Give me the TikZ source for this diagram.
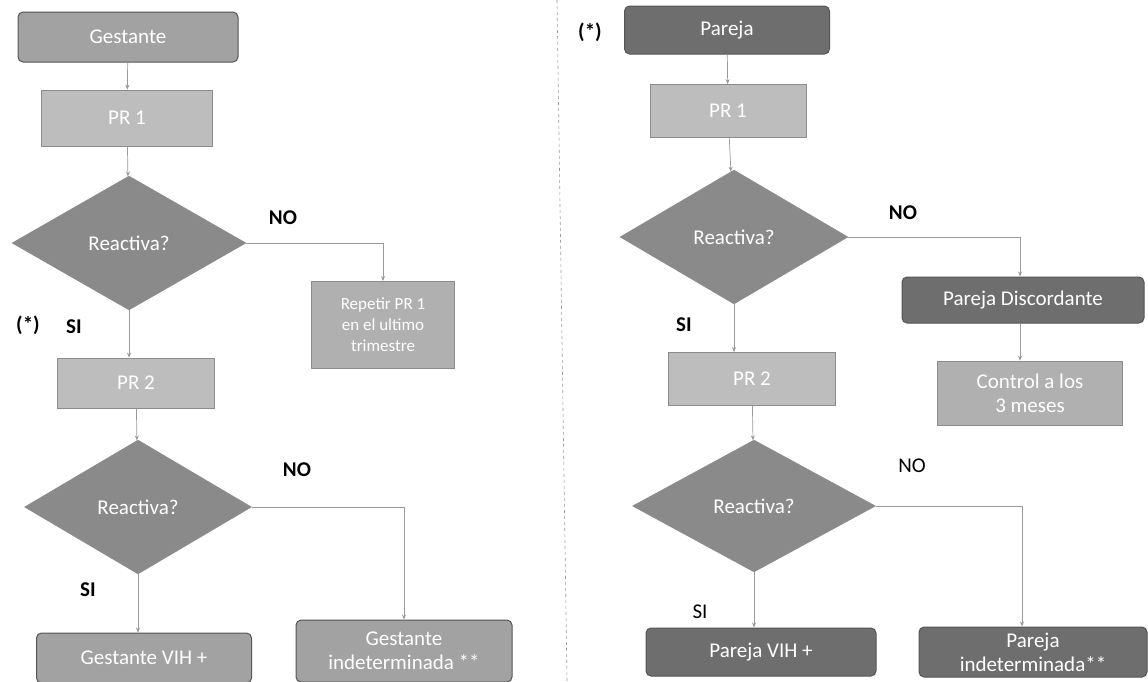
\documentclass[tikz,border=0pt]{standalone}
\usepackage{fontspec}
\setmainfont{Carlito}
\usetikzlibrary{shapes.geometric,arrows.meta}
\definecolor{lnc}{HTML}{9A9A9A}
\definecolor{prfill}{HTML}{BDBDBD}
\definecolor{prdraw}{HTML}{8C8C8C}
\definecolor{gfill}{HTML}{A2A2A2}
\definecolor{dfill}{HTML}{8A8A8A}
\definecolor{pfill}{HTML}{6E6E6E}
\definecolor{bdraw}{HTML}{555555}
\tikzset{
  base/.style={text=white, font=\fontsize{21}{24}\selectfont, align=center, inner sep=0pt},
  rbox/.style={base, rounded corners=5pt, draw=bdraw, line width=1pt},
  sbox/.style={base, draw=prdraw, line width=0.8pt, fill=prfill},
  dia/.style={base, diamond, fill=dfill, draw=dfill},
  conn/.style={draw=lnc, line width=0.7pt, -{Stealth[length=5pt,width=4pt]}},
  lbl/.style={font=\fontsize{21}{24}\selectfont\bfseries, text=black},
  lbln/.style={font=\fontsize{21}{24}\selectfont, text=black}
}
\begin{document}
\begin{tikzpicture}[x=1pt,y=-1pt]
\useasboundingbox (0,0) rectangle (1148,681);
\fill[white] (0,0) rectangle (1148,681);
\draw[lnc, dashed, line width=0.6pt] (557,0) -- (567,681);
% Left column
\node[rbox, fill=gfill, minimum width=220pt, minimum height=50pt] (g) at (128,37) {Gestante};
\node[sbox, minimum width=171pt, minimum height=56pt] (pr1) at (127,118) {PR 1};
\node[dia, minimum width=234pt, minimum height=134pt] (d1) at (129,243) {Reactiva?};
\node[sbox, fill=gfill!85!white, minimum width=143pt, minimum height=87pt, font=\fontsize{17}{21}\selectfont] (rep) at (383,325) {Repetir PR 1\\en el ultimo\\trimestre};
\node[sbox, minimum width=157pt, minimum height=50pt] (pr2) at (136,383) {PR 2};
\node[dia, minimum width=227pt, minimum height=134pt] (d2) at (138,507) {Reactiva?};
\node[rbox, fill=gfill, minimum width=215pt, minimum height=50pt] (gv) at (144,658) {Gestante VIH +};
\node[rbox, fill=gfill, minimum width=216pt, minimum height=62pt] (gi) at (404,651) {Gestante\\indeterminada **};
\coordinate (c1) at (383,243);
\coordinate (c2) at (404,507);
\draw[conn] (g) -- (pr1);
\draw[conn] (pr1) -- (d1);
\draw[conn] (d1.east) -- (c1) -- (rep.north);
\draw[conn] (d1.south) -- (pr2.north -| d1.south);
\draw[conn] (pr2) -- (d2);
\draw[conn] (d2.east) -- (c2) -- (gi.north);
\draw[conn] (d2.south) -- (gv.north -| d2.south);
\node[lbl] (n1) at (283,218) {NO};
\node[lbl] (st1) at (28,325) {(*)};
\node[lbl] (s1) at (74,327) {SI};
\node[lbl] (n2) at (297,470) {NO};
\node[lbl] (s2) at (88,590) {SI};
% Right column
\node[lbl] (st2) at (590,32) {(*)};
\node[rbox, fill=pfill, minimum width=205pt, minimum height=48pt] (p) at (727,30) {Pareja};
\node[sbox, minimum width=156pt, minimum height=53pt] (qr1) at (728,111) {PR 1};
\node[dia, minimum width=228pt, minimum height=134pt] (e1) at (734,237) {Reactiva?};
\node[rbox, fill=pfill, minimum width=242pt, minimum height=46pt] (pd) at (1023,300) {Pareja Discordante};
\node[sbox, fill=gfill!85!white, minimum width=185pt, minimum height=64pt] (ctl) at (1030,393) {Control a los\\3 meses};
\node[sbox, minimum width=167pt, minimum height=53pt] (qr2) at (752,379) {PR 2};
\node[dia, minimum width=243pt, minimum height=132pt] (e2) at (754,506) {Reactiva?};
\node[rbox, fill=pfill, minimum width=230pt, minimum height=48pt] (pv) at (761,652) {Pareja VIH +};
\node[rbox, fill=pfill, minimum width=228pt, minimum height=50pt] (pi) at (1033,652) {Pareja\\indeterminada**};
\coordinate (c3) at (1020,237);
\coordinate (c4) at (1022,506);
\draw[conn] (p) -- (qr1);
\draw[conn] (qr1) -- (e1);
\draw[conn] (e1.east) -- (c3) -- (c3 |- pd.north);
\draw[conn] (pd.south -| c3) -- (c3 |- ctl.north);
\draw[conn] (e1.south) -- (qr2.north -| e1.south);
\draw[conn] (qr2) -- (e2);
\draw[conn] (e2.east) -- (c4) -- (c4 |- pi.north);
\draw[conn] (e2.south) -- (pv.north -| e2.south);
\node[lbl] (n3) at (903,213) {NO};
\node[lbl] (s3) at (684,325) {SI};
\node[lbln] (n4) at (912,466) {NO};
\node[lbln] (s4) at (700,612) {SI};
\end{tikzpicture}
\end{document}
